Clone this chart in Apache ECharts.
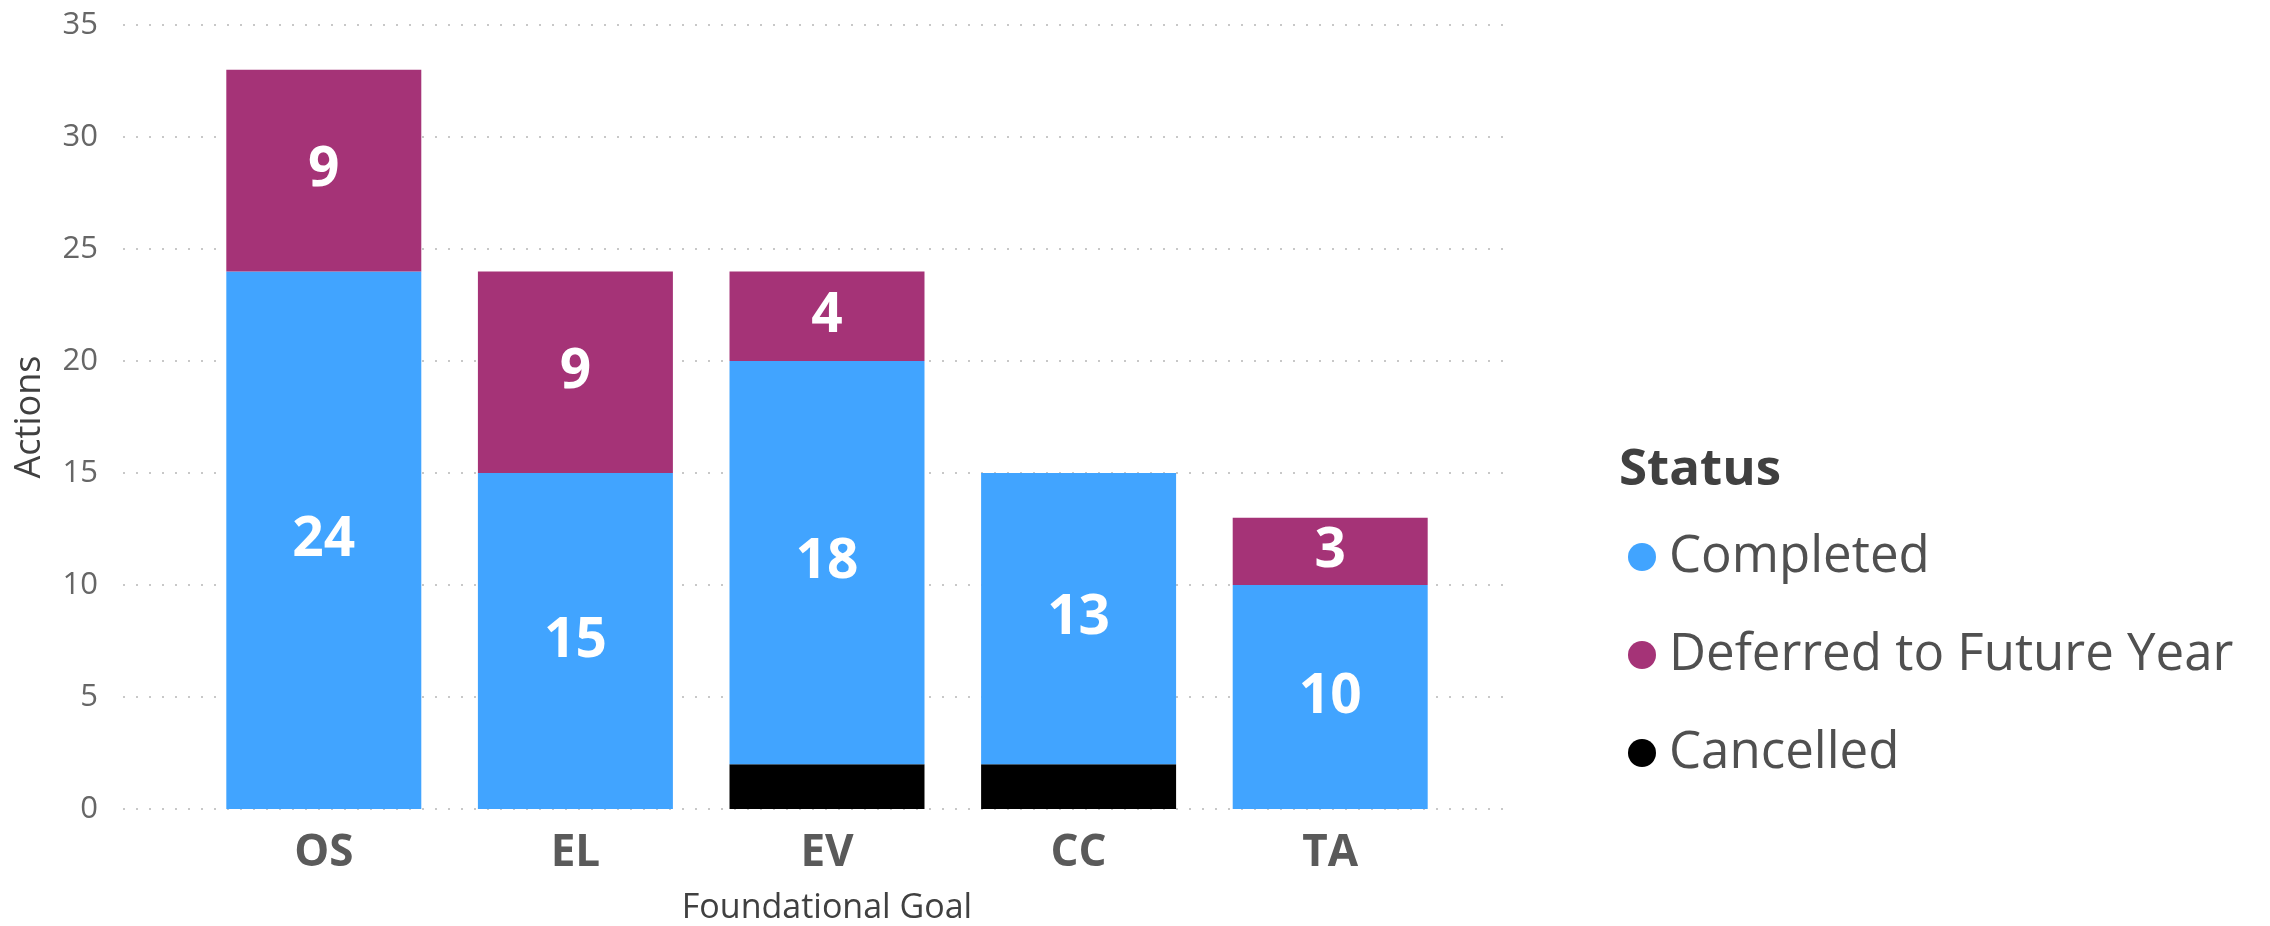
<!DOCTYPE html>
<html>
<head>
<meta charset="utf-8">
<script src="https://cdn.jsdelivr.net/npm/echarts@6/dist/echarts.min.js"></script>
<style>html,body{margin:0;padding:0;background:#fff}#c{width:2270px;height:926px}</style>
</head>
<body>
<div id="c"></div>
<script>
const categories = ['OS', 'EL', 'EV', 'CC', 'TA'];
const cancelled = [0, 0, 2, 2, 0];
const completed = [24, 15, 18, 13, 10];
const deferred = [9, 9, 4, 0, 3];
const yTicks = { min: 0, max: 35, interval: 5 };
const seriesNames = ['Completed', 'Deferred to Future Year', 'Cancelled'];
const colors = { Completed: '#41A4FF', 'Deferred to Future Year': '#A53377', Cancelled: '#000000' };

const font = '"Open Sans", "Noto Sans", sans-serif';
const chart = echarts.init(document.getElementById('c'));

function labelFor(show) {
  return {
    show: show, position: 'inside', color: '#fff', fontWeight: 'bold',
    fontSize: 55, fontFamily: font,
    formatter: p => (p.value ? p.value : '')
  };
}

chart.setOption({
  animation: false,
  title: {
    text: 'Status', left: 1614, top: 440,
    textStyle: { fontSize: 51, fontWeight: 'bold', color: '#404040', fontFamily: font }
  },
  legend: {
    data: seriesNames, orient: 'vertical', left: 1623, top: 526,
    icon: 'circle', itemWidth: 28, itemHeight: 28, itemGap: 46,
    textStyle: { fontSize: 51, lineHeight: 52, color: '#505050', fontFamily: font, padding: [0, 0, 0, 8] }
  },
  grid: [
    { left: 123, right: 764, top: 25, bottom: 117, outerBoundsMode: 'none', containLabel: false },
    { left: 198, right: 814, top: 25, bottom: 117, outerBoundsMode: 'none', containLabel: false }
  ],
  xAxis: [
    {
      gridIndex: 0, type: 'category', data: categories,
      axisLine: { show: false }, axisTick: { show: false }, axisLabel: { show: false }
    },
    {
      gridIndex: 1, type: 'category', data: categories,
      axisLine: { show: false }, axisTick: { show: false },
      axisLabel: { fontSize: 44, fontWeight: 'bold', color: '#5a5a5a', fontFamily: font, margin: 22 },
      name: 'Foundational Goal', nameLocation: 'middle', nameGap: 82,
      nameTextStyle: { fontSize: 34, color: '#404040', fontFamily: font }
    }
  ],
  yAxis: [
    {
      gridIndex: 0, type: 'value', min: yTicks.min, max: yTicks.max, interval: yTicks.interval,
      axisLine: { show: false }, axisTick: { show: false },
      axisLabel: { fontSize: 31, color: '#666', fontFamily: font, margin: 25 },
      splitLine: { show: true, lineStyle: { type: [2, 11], width: 2, color: '#c8c8c8' } },
      name: 'Actions', nameLocation: 'middle', nameGap: 75,
      nameTextStyle: { fontSize: 36, color: '#404040', fontFamily: font }
    },
    {
      gridIndex: 1, type: 'value', min: yTicks.min, max: yTicks.max, interval: yTicks.interval,
      show: false, splitLine: { show: false }
    }
  ],
  series: [
    { name: 'Cancelled', type: 'bar', stack: 's', xAxisIndex: 1, yAxisIndex: 1, data: cancelled,
      barCategoryGap: '22.5%', itemStyle: { color: colors.Cancelled }, label: labelFor(false) },
    { name: 'Completed', type: 'bar', stack: 's', xAxisIndex: 1, yAxisIndex: 1, data: completed,
      barCategoryGap: '22.5%', itemStyle: { color: colors.Completed }, label: labelFor(true) },
    { name: 'Deferred to Future Year', type: 'bar', stack: 's', xAxisIndex: 1, yAxisIndex: 1, data: deferred,
      barCategoryGap: '22.5%', itemStyle: { color: colors['Deferred to Future Year'] }, label: labelFor(true) }
  ]
});
</script>
</body>
</html>
